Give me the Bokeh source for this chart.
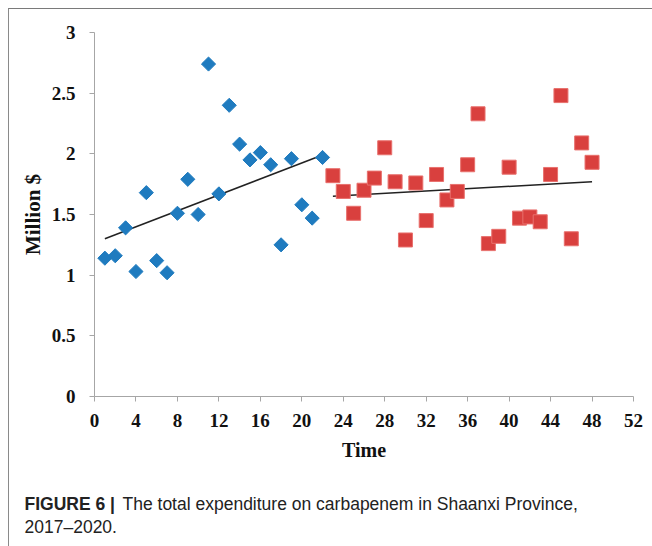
import math
from bokeh.plotting import figure
from bokeh.layouts import column
from bokeh.models import Range1d, FixedTicker, Label
from bokeh.embed import file_html
from bokeh.resources import INLINE

# ---- data ----
blue_x = list(range(1, 23))
blue_y = [1.14, 1.16, 1.39, 1.03, 1.68, 1.12, 1.02, 1.51, 1.79, 1.50, 2.74,
          1.67, 2.40, 2.08, 1.95, 2.01, 1.91, 1.25, 1.96, 1.58, 1.47, 1.97]
red_x = list(range(23, 49))
red_y = [1.82, 1.69, 1.51, 1.70, 1.80, 2.05, 1.77, 1.29, 1.76, 1.45, 1.83,
         1.62, 1.69, 1.91, 2.33, 1.26, 1.32, 1.89, 1.47, 1.48, 1.44, 1.83,
         2.48, 1.30, 2.09, 1.93]
blue_trend_x = [1, 22]
blue_trend_y = [1.30, 1.99]
red_trend_x = [23, 48]
red_trend_y = [1.65, 1.77]

x_ticks = [0, 4, 8, 12, 16, 20, 24, 28, 32, 36, 40, 44, 48, 52]
y_ticks = [0, 0.5, 1, 1.5, 2, 2.5, 3]
y_tick_labels = ["0", "0.5", "1", "1.5", "2", "2.5", "3"]

x_title = "Time"
y_title = "Million $"
caption_bold = "FIGURE 6 |"
caption_rest = "The total expenditure on carbapenem in Shaanxi Province,"
caption_line2 = "2017\u20132020."

W = 643
p = figure(width=W, height=467, output_backend="svg", toolbar_location=None,
           x_range=Range1d(0, 52), y_range=Range1d(0, 3),
           min_border_left=85, min_border_right=19,
           min_border_top=23, min_border_bottom=80)
p.frame_align = False
p.outline_line_color = None
p.grid.grid_line_color = None

serif = "Liberation Serif"
axis_col = "#a6a6a6"
for ax in (p.xaxis[0], p.yaxis[0]):
    ax.axis_line_color = axis_col
    ax.major_tick_line_color = axis_col
    ax.minor_tick_line_color = None
    ax.major_tick_out = 5
    ax.major_tick_in = 0
    ax.major_label_text_font = serif
    ax.major_label_text_font_style = "bold"
    ax.major_label_text_font_size = "19px"
    ax.major_label_text_color = "#111111"
    ax.axis_label_text_font = serif
    ax.axis_label_text_font_style = "bold"
    ax.axis_label_text_color = "#111111"

p.xaxis.ticker = FixedTicker(ticks=x_ticks)
p.yaxis.ticker = FixedTicker(ticks=y_ticks)
p.yaxis.major_label_overrides = {t: l for t, l in zip(y_ticks, y_tick_labels)}
p.xaxis.axis_label = x_title
p.yaxis.axis_label = y_title
p.xaxis.axis_label_text_font_size = "20px"
p.yaxis.axis_label_text_font_size = "21px"
p.xaxis.major_label_standoff = 12
p.yaxis.major_label_standoff = 14
p.xaxis.axis_label_standoff = 9
p.yaxis.axis_label_standoff = 4

p.line(blue_trend_x, blue_trend_y, line_color="#222222", line_width=1.5)
p.line(red_trend_x, red_trend_y, line_color="#222222", line_width=1.5)

p.scatter(blue_x, blue_y, marker="square", angle=math.pi / 4, size=10,
          fill_color="#1f7bbf", line_color="#1f7bbf")
p.scatter(red_x, red_y, marker="square", size=14,
          fill_color="#d9403e", line_color="#e8706d", line_width=1)

# caption panel
c = figure(width=W, height=70, output_backend="svg", toolbar_location=None,
           x_range=Range1d(0, 1), y_range=Range1d(0, 1),
           x_axis_type=None, y_axis_type=None,
           min_border_left=0, min_border_right=0,
           min_border_top=0, min_border_bottom=0)
c.frame_align = False
c.outline_line_color = None
c.grid.grid_line_color = None

sans = "Liberation Sans"
cap_size = "17.5px"
c.add_layout(Label(x=15, y=43, x_units="screen", y_units="screen",
                   text=caption_bold, text_font=sans, text_font_style="bold",
                   text_font_size=cap_size, text_baseline="middle", text_color="#222222"))
c.add_layout(Label(x=113, y=43, x_units="screen", y_units="screen",
                   text=caption_rest, text_font=sans,
                   text_font_size=cap_size, text_baseline="middle", text_color="#222222"))
c.add_layout(Label(x=15, y=19.5, x_units="screen", y_units="screen",
                   text=caption_line2, text_font=sans,
                   text_font_size=cap_size, text_baseline="middle", text_color="#222222"))

layout = column(p, c, spacing=0,
                styles={"margin-left": "8px", "margin-top": "8px",
                        "border-left": "1px solid #8a8a8a",
                        "border-top": "1px solid #7a7a7a"})

open("out.html", "w").write(file_html(layout, INLINE))
